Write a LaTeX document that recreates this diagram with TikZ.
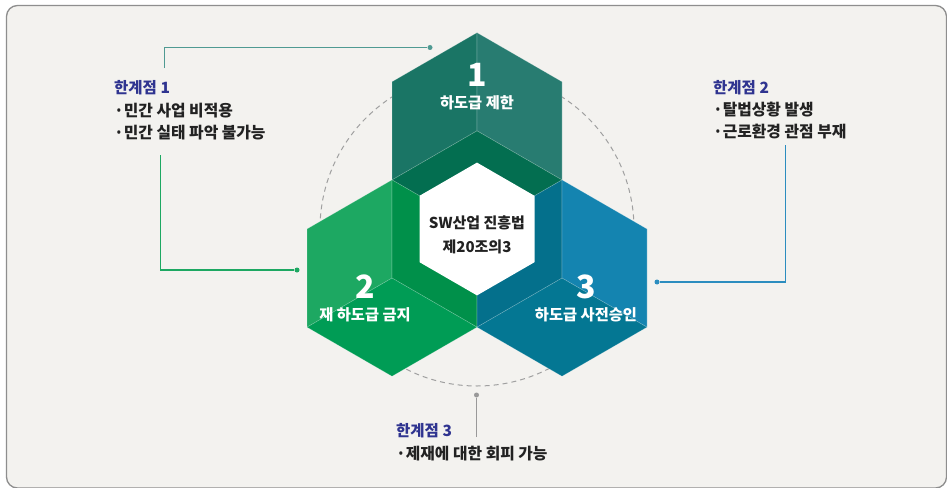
\documentclass[tikz,border=0pt]{standalone}
\usepackage{fontspec}
\setmainfont{Noto Sans CJK KR}
\usetikzlibrary{calc}

\definecolor{panelbg}{HTML}{F3F2EF}
\definecolor{panelrim}{HTML}{8E8E8E}
\definecolor{ringgrey}{HTML}{A0A0A0}
\definecolor{titleblue}{HTML}{2F3490}
\definecolor{textdark}{HTML}{222222}
% top block
\definecolor{topL}{HTML}{1A7565}
\definecolor{topR}{HTML}{287C71}
\definecolor{topB}{HTML}{036E50}
% left block
\definecolor{lftL}{HTML}{1DA862}
\definecolor{lftR}{HTML}{00904A}
\definecolor{lftB}{HTML}{009C55}
% right block
\definecolor{rgtL}{HTML}{04708C}
\definecolor{rgtR}{HTML}{1484B0}
\definecolor{rgtB}{HTML}{047793}
% leader lines
\definecolor{leadteal}{HTML}{4F9A92}
\definecolor{leadgreen}{HTML}{1DA862}
\definecolor{leadblue}{HTML}{2B8DBF}
\definecolor{leadgrey}{HTML}{999999}

\begin{document}
\begin{tikzpicture}[x=1pt,y=-1pt,
  face/.style={draw=white, draw opacity=0.22, line width=0.6pt},
  hexnum/.style={text=white, font=\bfseries\fontsize{32}{34}\selectfont, inner sep=0pt},
  hexlabel/.style={text=white, font=\bfseries\fontsize{15.3}{17}\selectfont, inner sep=0pt},
  coretext/.style={text=textdark, align=center, font=\bfseries\fontsize{15}{24}\selectfont, inner sep=0pt},
  calltitle/.style={anchor=west, text=titleblue, font=\bfseries\fontsize{15.5}{17}\selectfont, inner sep=0pt},
  callitem/.style={anchor=west, text=textdark, font=\bfseries\fontsize{15.8}{18}\selectfont, inner sep=0pt},
  lead/.style={line width=1.2pt},
  leaddot/.style={circle, inner sep=0pt, minimum size=5pt},
  ring/.style={draw=ringgrey, line width=1pt, dash pattern=on 5pt off 4pt}
]
\useasboundingbox (0,0) rectangle (947,487);
\clip (0,0) rectangle (947,487);
\fill[white] (0,0) rectangle (947,487);

% panel
\draw[fill=panelbg, draw=panelrim, line width=1.3pt, rounded corners=11pt]
  (6.5,5.5) rectangle (946.5,488);

% centre of the cluster and the dashed ring behind it
\coordinate (O) at (477,229);
\draw[ring] (O) circle[radius=157];

% ---- top block ----
\coordinate (T)   at (477,130.85);
\coordinate (Tt)  at (477,32.7);
\coordinate (Tul) at (392,81.78);
\coordinate (Tll) at (392,179.93);
\coordinate (Tlr) at (562,179.93);
\coordinate (Tur) at (562,81.78);
\filldraw[face, fill=topL] (Tt) -- (Tul) -- (Tll) -- (T) -- cycle;
\filldraw[face, fill=topR] (Tt) -- (Tur) -- (Tlr) -- (T) -- cycle;
\filldraw[face, fill=topB] (T) -- (Tll) -- (O) -- (Tlr) -- cycle;

% ---- left block ----
\coordinate (L)   at (392,278.07);
\coordinate (Lt)  at (392,179.93);
\coordinate (Lul) at (307,229);
\coordinate (Lll) at (307,327.15);
\coordinate (Lb)  at (392,376.22);
\coordinate (Llr) at (477,327.15);
\filldraw[face, fill=lftL] (Lt) -- (Lul) -- (Lll) -- (L) -- cycle;
\filldraw[face, fill=lftR] (Lt) -- (O) -- (Llr) -- (L) -- cycle;
\filldraw[face, fill=lftB] (L) -- (Lll) -- (Lb) -- (Llr) -- cycle;

% ---- right block ----
\coordinate (R)   at (562,278.07);
\coordinate (Rt)  at (562,179.93);
\coordinate (Rb)  at (562,376.22);
\coordinate (Rlr) at (647,327.15);
\coordinate (Rur) at (647,229);
\filldraw[face, fill=rgtL] (Rt) -- (O) -- (Llr) -- (R) -- cycle;
\filldraw[face, fill=rgtR] (Rt) -- (Rur) -- (Rlr) -- (R) -- cycle;
\filldraw[face, fill=rgtB] (R) -- (Llr) -- (Rb) -- (Rlr) -- cycle;

% ---- white core ----
\fill[white] (477,162.6) -- (419.5,195.8) -- (419.5,262.2) -- (477,295.4)
  -- (534.5,262.2) -- (534.5,195.8) -- cycle;
\node[coretext] (core) at (477,235) {SW산업 진흥법\\제20조의3};

% ---- block labels ----
\node[hexnum]   (n1) at (477,75)  {1};
\node[hexlabel] (l1) at (477,103) {하도급 제한};
\node[hexnum]   (n2) at (365,287) {2};
\node[hexlabel] (l2) at (365,315) {재 하도급 금지};
\node[hexnum]   (n3) at (586,287) {3};
\node[hexlabel] (l3) at (586,315) {하도급 사전승인};

% ---- callout 1 ----
\node[calltitle] (t1)  at (114,87.5)  {한계점 1};
\node[callitem]  (t1a) at (114,110.5) {·민간 사업 비적용};
\node[callitem]  (t1b) at (114,133)   {·민간 실태 파악 불가능};

% ---- callout 2 ----
\node[calltitle] (t2)  at (713,88)  {한계점 2};
\node[callitem]  (t2a) at (713,110) {·탈법상황 발생};
\node[callitem]  (t2b) at (713,132) {·근로환경 관점 부재};

% ---- callout 3 ----
\node[calltitle] (t3)  at (396,430.5) {한계점 3};
\node[callitem]  (t3a) at (396,453.5) {·제재에 대한 회피 가능};

% ---- leader lines ----
\coordinate (s1a) at (164.5,68);
\node[leaddot, fill=leadteal] (d1a) at (430,47.5) {};
\draw[lead, leadteal] (s1a) |- (d1a);

\coordinate (s1b) at (160.5,155);
\node[leaddot, fill=leadgreen] (d1b) at (297,270) {};
\draw[lead, leadgreen] (s1b) |- (d1b);

\coordinate (s2) at (785.5,145);
\node[leaddot, fill=leadblue] (d2) at (657,282) {};
\draw[lead, leadblue] (s2) |- (d2);

\coordinate (s3) at (476.5,437);
\node[leaddot, fill=leadgrey] (d3) at (476.5,395) {};
\draw[lead, leadgrey] (s3) -- (d3);
\end{tikzpicture}
\end{document}
